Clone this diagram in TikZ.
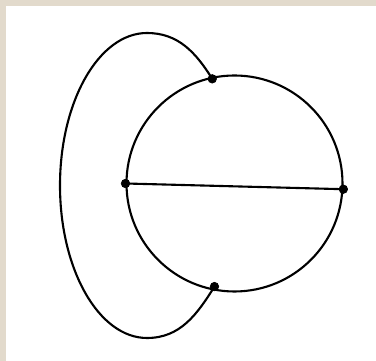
\documentclass[tikz,border=0pt]{standalone}
\usepackage{tikz}
\usetikzlibrary{positioning,calc}
\definecolor{paper}{RGB}{226,218,204}

\begin{document}
\begin{tikzpicture}[
    x=0.02cm, y=0.02cm,
    vertex/.style={circle, fill=black, draw=black, inner sep=0pt, minimum size=0.17cm},
    edge/.style={line width=1.2pt, black}
]

% Background
\fill[paper] (0,0) rectangle (376,361);
\fill[white] (6,0) rectangle (376,355);
\useasboundingbox (0,0) rectangle (376,361);

% Main circle
\coordinate (ctr) at (234.5,177.5);
\draw[edge] (ctr) circle (108);

% Vertices
\node[vertex] (top) at ($(ctr)+(102:107)$) {};
\node[vertex] (bot) at ($(ctr)+(259:105)$) {};
\node[vertex] (left) at ($(ctr)+(180:109)$) {};
\node[vertex] (right) at ($(ctr)+(-3:109)$) {};

% Outer loop helper
\coordinate (otop) at (147,328);

% Edges
\draw[edge] (left.center) -- (right.center);
\draw[edge] (top.center) to[out=122, in=0] (otop)
    arc[start angle=90, end angle=270, x radius=87, y radius=152.5]
    to[out=0, in=238] (bot.center);

\end{tikzpicture}
\end{document}
